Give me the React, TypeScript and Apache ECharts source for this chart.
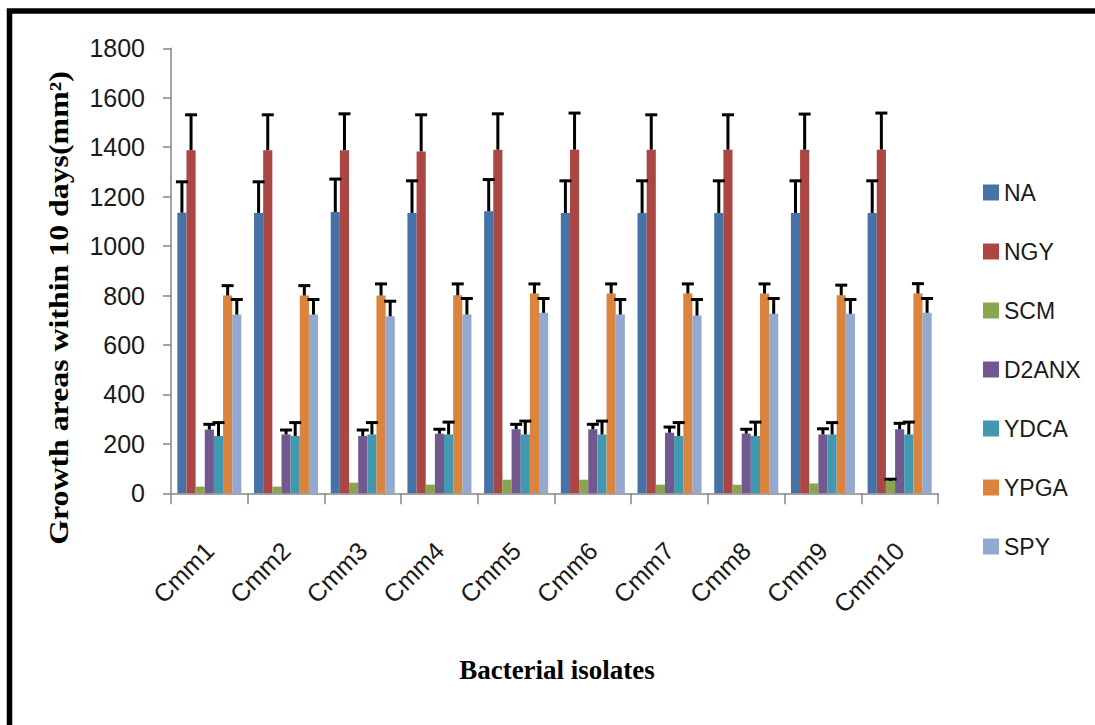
import React, { useEffect, useRef } from "react";
import * as echarts from "echarts";

const categories = ["Cmm1", "Cmm2", "Cmm3", "Cmm4", "Cmm5", "Cmm6", "Cmm7", "Cmm8", "Cmm9", "Cmm10"];
const seriesNames = ["NA", "NGY", "SCM", "D2ANX", "YDCA", "YPGA", "SPY"];
const colors = ["#4572A7", "#AA4643", "#89A54E", "#71588F", "#4198AF", "#DB843D", "#93A9CF"];

const NA = [1135, 1134, 1138, 1134, 1141, 1134, 1134, 1134, 1134, 1134];
const NA_err = [125, 126, 133, 130, 128, 130, 130, 130, 130, 130];
const NGY = [1388, 1388, 1388, 1383, 1390, 1390, 1390, 1390, 1390, 1390];
const NGY_err = [143, 143, 147, 148, 145, 148, 141, 141, 144, 148];
const SCM = [27, 27, 43, 35, 55, 55, 35, 35, 40, 50];
const SCM_err = [0, 0, 0, 0, 0, 0, 0, 0, 0, 7];
const D2ANX = [258, 238, 232, 241, 259, 259, 245, 241, 238, 259];
const D2ANX_err = [21, 18, 24, 18, 20, 20, 23, 18, 23, 24];
const YDCA = [232, 232, 238, 238, 238, 238, 232, 232, 238, 238];
const YDCA_err = [54, 54, 48, 50, 54, 54, 54, 56, 48, 50];
const YPGA = [800, 800, 800, 801, 808, 808, 808, 808, 801, 808];
const YPGA_err = [40, 40, 47, 46, 39, 39, 39, 39, 41, 40];
const SPY = [723, 723, 716, 723, 730, 723, 719, 726, 726, 730];
const SPY_err = [61, 61, 61, 65, 58, 61, 65, 62, 58, 58];

const values = [NA, NGY, SCM, D2ANX, YDCA, YPGA, SPY];
const errors = [NA_err, NGY_err, SCM_err, D2ANX_err, YDCA_err, YPGA_err, SPY_err];

const CAT_GAP = 0.165;

export default function App() {
  const ref = useRef<HTMLDivElement>(null);
  useEffect(() => {
    if (!ref.current) return;
    const chart = echarts.init(ref.current, null, { renderer: "svg" });
    const n = seriesNames.length;
    const barSeries = seriesNames.map((name, i) => ({
      name,
      type: "bar",
      data: values[i],
      barGap: "0%",
      barCategoryGap: CAT_GAP * 100 + "%",
      itemStyle: { color: colors[i] },
      z: 2,
    }));
    const errSeries = seriesNames.map((name, i) => ({
      name: name + "_err",
      type: "custom",
      z: 5,
      silent: true,
      encode: { x: 0, y: 1 },
      data: categories.map((c, k) => [k, values[i][k], errors[i][k]]),
      renderItem: (params: any, api: any) => {
        const x = api.value(0);
        const v = api.value(1);
        const e = api.value(2);
        if (!e) return { type: "group", children: [] };
        const band = api.size([1, 0])[0];
        const used = band * (1 - CAT_GAP);
        const bw = used / n;
        const p = api.coord([x, v]);
        const t = api.coord([x, v + e]);
        const cx = p[0] - used / 2 + bw * (i + 0.5);
        const style = { stroke: "#000", lineWidth: 3 };
        return {
          type: "group",
          children: [
            { type: "line", shape: { x1: cx, y1: p[1], x2: cx, y2: t[1] }, style },
            { type: "line", shape: { x1: cx - 6, y1: t[1], x2: cx + 6, y2: t[1] }, style },
          ],
        };
      },
    }));
    chart.setOption({
      animation: false,
      backgroundColor: "#fff",
      grid: { left: 171, right: 157, top: 48.3, bottom: 231.7, containLabel: false, outerBoundsMode: "none" },
      legend: {
        data: seriesNames,
        orient: "vertical",
        left: 983,
        top: 181,
        padding: 0,
        itemWidth: 16,
        itemHeight: 16,
        itemGap: 36,
        icon: "rect",
        textStyle: { fontFamily: "Liberation Sans", fontSize: 23, color: "#1a1a1a" },
      },
      xAxis: {
        type: "category",
        data: categories,
        axisLine: { lineStyle: { color: "#868686", width: 1.5 } },
        axisTick: { show: true, length: 11, lineStyle: { color: "#868686", width: 1.5 } },
        axisLabel: {
          rotate: 45,
          margin: 53,
          fontFamily: "Liberation Sans",
          fontSize: 25,
          color: "#1a1a1a",
        },
        splitLine: { show: false },
      },
      yAxis: {
        type: "value",
        min: 0,
        max: 1800,
        interval: 200,
        axisLine: { show: true, lineStyle: { color: "#868686", width: 1.5 } },
        axisTick: { show: true, length: 8, lineStyle: { color: "#868686", width: 1.5 } },
        axisLabel: {
          margin: 26,
          fontFamily: "Liberation Sans",
          fontSize: 25,
          color: "#1a1a1a",
          formatter: (v: number) => String(v),
        },
        splitLine: { show: false },
      },
      graphic: [
        {
          type: "rect",
          shape: { x: 9.5, y: 11, width: 1300, height: 900 },
          style: { fill: "none", stroke: "#000", lineWidth: 5.5 },
          z: 100,
        },
        {
          type: "text",
          x: 557,
          y: 670,
          style: {
            text: "Bacterial isolates",
            fontFamily: "Liberation Serif",
            fontWeight: "bold",
            fontSize: 27,
            fill: "#000",
            align: "center",
            verticalAlign: "middle",
          },
        },
        {
          type: "text",
          x: 58.5,
          y: 308,
          rotation: Math.PI / 2,
          scaleX: 1.18,
          style: {
            text: "Growth areas within 10 days(mm²)",
            fontFamily: "Liberation Serif",
            fontWeight: "bold",
            fontSize: 27,
            fill: "#000",
            align: "center",
            verticalAlign: "middle",
          },
        },
      ],
      series: [...barSeries, ...errSeries],
    });
    return () => chart.dispose();
  }, []);
  return (
    <div
      ref={ref}
      style={{ position: "absolute", left: 0, top: 0, width: 1095, height: 725 }}
    />
  );
}
